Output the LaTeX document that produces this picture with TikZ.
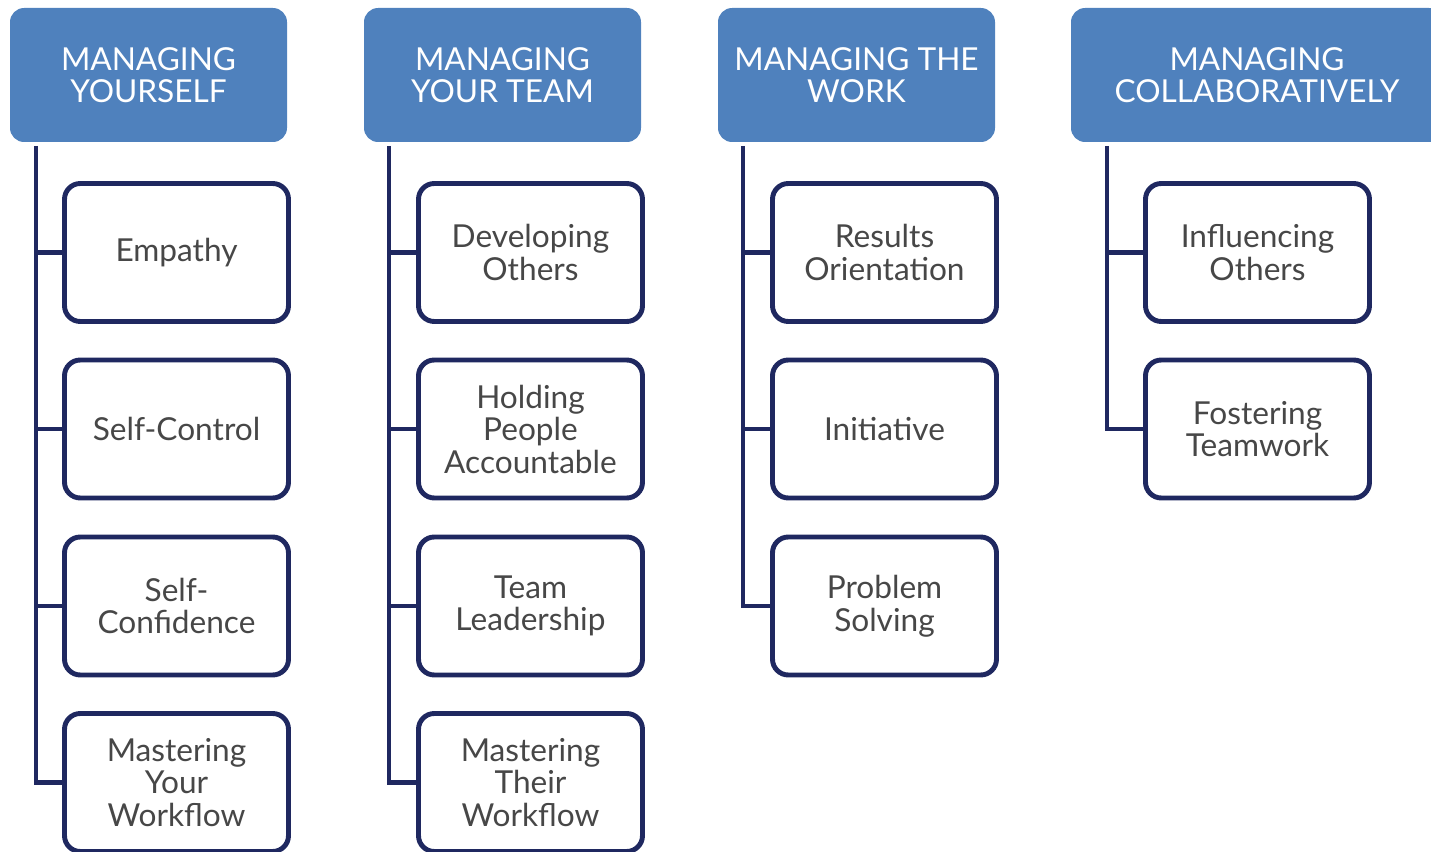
\documentclass[tikz,border=0pt]{standalone}
\usepackage{fontspec}
\setmainfont{Lato}
\usepackage{tikz}
\usetikzlibrary{positioning}

\definecolor{headblue}{HTML}{4F81BD}
\definecolor{navy}{HTML}{1F2860}
\definecolor{txtgray}{HTML}{474747}

\tikzset{
    header/.style={fill=headblue, rounded corners=8pt, minimum width=5.54cm,
        minimum height=2.68cm, text=white, align=center, inner sep=0pt,
        font=\fontsize{18}{18}\selectfont},
    skill/.style={draw=navy, line width=2.8pt, rounded corners=9pt, fill=white,
        minimum width=4.48cm, minimum height=2.76cm, text=txtgray, align=center,
        inner sep=0pt, font=\fontsize{18}{18.5}\selectfont},
    trunk/.style={navy, line width=2.8pt}
}

\begin{document}
\begin{tikzpicture}
        \useasboundingbox (0,0) rectangle (28.62,-17.04);
        \clip (0,0) rectangle (28.62,-17.04);

        % Managing yourself
        \node[header] (h1) at (2.97,-1.5) {MANAGING\\YOURSELF};
        \node[skill] (a1) at (3.53,-5.05) {Empathy};
        \node[skill] (a2) at (3.53,-8.58) {Self-Control};
        \node[skill] (a3) at (3.53,-12.12) {Self-\\Confidence};
        \node[skill] (a4) at (3.53,-15.65) {Mastering\\Your\\Workflow};
        \coordinate (t1) at (0.72,-2.92);
        \draw[trunk] (t1) |- (a4.west);
        \draw[trunk] (t1 |- a1.west) -- (a1.west);
        \draw[trunk] (t1 |- a2.west) -- (a2.west);
        \draw[trunk] (t1 |- a3.west) -- (a3.west);

        % Managing your team
        \node[header] (h2) at (10.05,-1.5) {MANAGING\\YOUR TEAM};
        \node[skill] (b1) at (10.61,-5.05) {Developing\\Others};
        \node[skill] (b2) at (10.61,-8.58) {Holding\\People\\Accountable};
        \node[skill] (b3) at (10.61,-12.12) {Team\\Leadership};
        \node[skill] (b4) at (10.61,-15.65) {Mastering\\Their\\Workflow};
        \coordinate (t2) at (7.78,-2.92);
        \draw[trunk] (t2) |- (b4.west);
        \draw[trunk] (t2 |- b1.west) -- (b1.west);
        \draw[trunk] (t2 |- b2.west) -- (b2.west);
        \draw[trunk] (t2 |- b3.west) -- (b3.west);

        % Managing the work
        \node[header] (h3) at (17.13,-1.5) {MANAGING THE\\WORK};
        \node[skill] (c1) at (17.69,-5.05) {Results\\Orientation};
        \node[skill] (c2) at (17.69,-8.58) {Initiative};
        \node[skill] (c3) at (17.69,-12.12) {Problem\\Solving};
        \coordinate (t3) at (14.86,-2.92);
        \draw[trunk] (t3) |- (c3.west);
        \draw[trunk] (t3 |- c1.west) -- (c1.west);
        \draw[trunk] (t3 |- c2.west) -- (c2.west);

        % Managing collaboratively
        \node[header, minimum width=7.44cm] (h4) at (25.14,-1.5) {MANAGING\\COLLABORATIVELY};
        \node[skill] (d1) at (25.15,-5.05) {Influencing\\Others};
        \node[skill] (d2) at (25.15,-8.58) {Fostering\\Teamwork};
        \coordinate (t4) at (22.14,-2.92);
        \draw[trunk] (t4) |- (d2.west);
        \draw[trunk] (t4 |- d1.west) -- (d1.west);
    \end{tikzpicture}
\end{document}
